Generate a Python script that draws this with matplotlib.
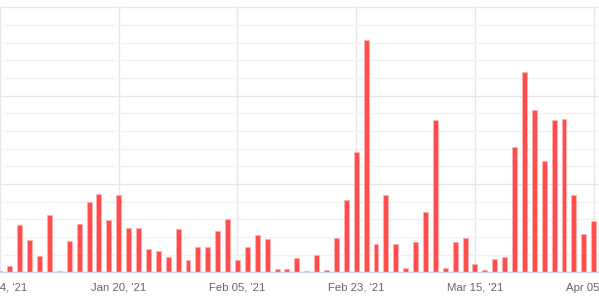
import matplotlib
matplotlib.use("Agg")
from matplotlib import pyplot as plt
from matplotlib.ticker import MultipleLocator

# daily counts, one bar per category (61 categories shown)
values = [
    0.5, 3.8, 26.6, 18.3, 9.2, 32.3, 0.5, 17.5, 27.2, 39.6,
    44.2, 29.4, 43.6, 24.9, 24.9, 13.2, 11.9, 8.5, 24.3, 6.8,
    14.2, 14.2, 23.4, 30.0, 6.8, 14.2, 20.9, 18.7, 1.7, 1.7,
    7.9, 0.5, 9.6, 1.1, 19.2, 40.8, 67.9, 131.3, 15.8, 43.6,
    15.8, 2.3, 17.0, 34.0, 86.0, 2.3, 17.0, 19.2, 4.5, 1.1,
    7.4, 8.5, 70.8, 113.2, 91.7, 62.8, 86.0, 86.6, 43.6, 21.5,
    28.9,
]
tick_idx = [0, 12, 24, 36, 48, 60]
tick_labels = ["Jan 04, '21", "Jan 20, '21", "Feb 05, '21", "Feb 23, '21",
               "Mar 15, '21", "Apr 05, '21"]

W, H = 599, 305
fig = plt.figure(figsize=(W / 100, H / 100), dpi=100)

base_px = 272.3
top_px = 7.3
ymax = 150
px_per_unit = (base_px - top_px) / ymax
ytop = 151
ax = fig.add_axes([0, (H - base_px) / H, 1, ytop * px_per_unit / H])

step = 9.91
x0 = -0.9
ax.set_xlim((0 - x0) / step, (W - x0) / step)
ax.set_ylim(0, ytop)

x = list(range(len(values)))
ax.bar(x, values, width=0.5, color="#ff4d4d", edgecolor="#ffb0b0",
       linewidth=0.6, zorder=3)

ax.yaxis.set_major_locator(MultipleLocator(50))
ax.yaxis.set_minor_locator(MultipleLocator(10))
ax.grid(axis="y", which="minor", color="#f2f2f2", linewidth=1, zorder=0)
ax.grid(axis="y", which="major", color="#e6e6e6", linewidth=1, zorder=1)
ax.set_xticks(tick_idx)
ax.set_xticklabels(tick_labels, fontfamily="Liberation Sans", fontsize=8.2,
                   color="#666666")
ax.grid(axis="x", which="major", color="#e6e6e6", linewidth=1, zorder=1)
ax.tick_params(axis="x", length=0, pad=7.5)
ax.tick_params(axis="y", which="both", length=0, labelleft=False)

for s in ["top", "left", "right"]:
    ax.spines[s].set_visible(False)
ax.spines["bottom"].set_color("#ccd6eb")
ax.spines["bottom"].set_linewidth(1)
ax.spines["bottom"].set_zorder(4)

fig.savefig("out.png", dpi=100)
